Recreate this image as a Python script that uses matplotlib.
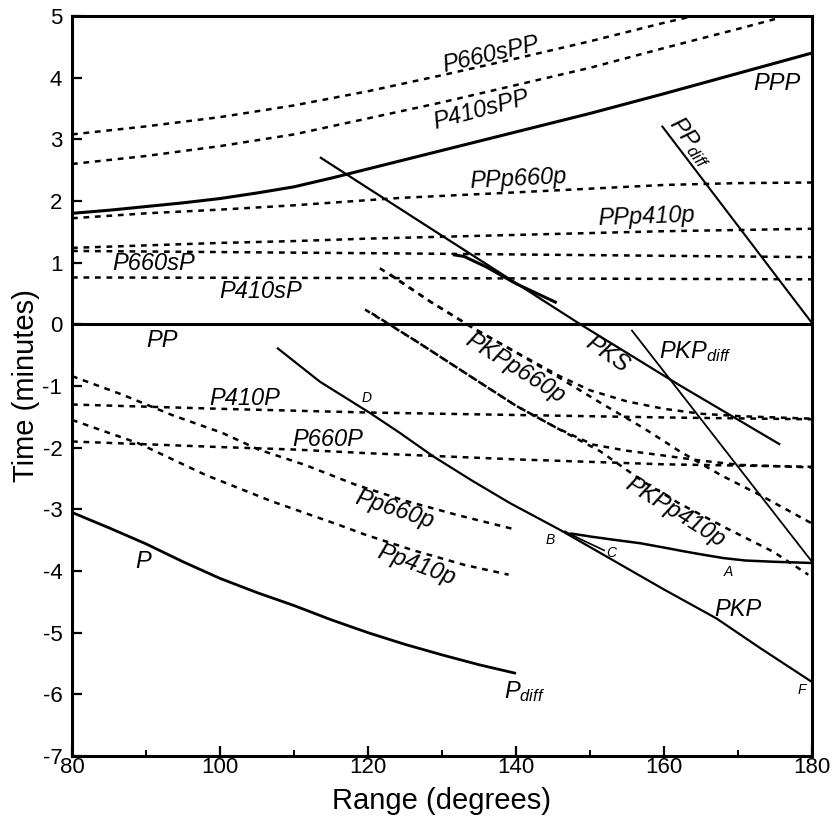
"""Travel-time curves of P-wave phases and their 410/660 km precursors"""

import matplotlib

matplotlib.use("Agg")
import matplotlib.pyplot as plt
from matplotlib.ticker import MultipleLocator

plt.rcParams["font.family"] = ["Liberation Sans", "DejaVu Sans"]
plt.rcParams["mathtext.fontset"] = "custom"
plt.rcParams["mathtext.it"] = "Liberation Sans:italic"
plt.rcParams["mathtext.rm"] = "Liberation Sans"
plt.rcParams["axes.unicode_minus"] = False

# ---- solid phases -------------------------------------------------------
ppp_x = [80, 85, 90, 95, 100, 105, 110, 115, 120, 130, 140, 150, 160, 170, 180]
ppp_y = [1.8, 1.85, 1.91, 1.97, 2.04, 2.13, 2.23, 2.37, 2.52, 2.82, 3.12, 3.42, 3.74, 4.07, 4.4]

ppdiff_x = [159.7, 180]
ppdiff_y = [3.22, 0.02]

pp_x = [80, 180]
pp_y = [0.0, 0.0]

pks_x = [113.5, 128.4, 148.7, 162, 175.7]
pks_y = [2.71, 1.56, 0.0, -0.98, -1.95]

pks_branch_x = [131.5, 133, 136, 140, 145.5]
pks_branch_y = [1.13, 1.1, 0.93, 0.66, 0.35]

pkpdiff_x = [155.6, 180]
pkpdiff_y = [-0.09, -3.85]

pkp_df_x = [107.7, 113.5, 120.3, 124.3, 128.8, 134, 139.2, 145.9, 152.3, 160, 167.1, 173, 180]
pkp_df_y = [-0.38, -0.93, -1.44, -1.76, -2.14, -2.53, -2.9, -3.33, -3.77, -4.3, -4.77, -5.25, -5.8]

pkp_ab_x = [147.3, 150, 153, 156.8, 160, 162.2, 165, 168, 171, 174.8, 180]
pkp_ab_y = [-3.39, -3.44, -3.49, -3.55, -3.62, -3.67, -3.73, -3.79, -3.83, -3.85, -3.87]

pkp_bc_x = [146.5, 149, 152]
pkp_bc_y = [-3.35, -3.5, -3.67]

p_x = [80, 85, 90, 95, 100, 105, 110, 115, 120, 125, 130, 135, 140]
p_y = [-3.05, -3.3, -3.56, -3.85, -4.12, -4.35, -4.56, -4.79, -5.0, -5.19, -5.36, -5.52, -5.66]

# ---- dashed precursors --------------------------------------------------
p660spp_x = [80, 90, 100, 110, 120, 130, 140, 150, 160, 164]
p660spp_y = [3.08, 3.21, 3.36, 3.55, 3.78, 4.04, 4.31, 4.59, 4.89, 5.0]

p410spp_x = [80, 90, 100, 110, 120, 130, 140, 150, 160, 170, 175]
p410spp_y = [2.6, 2.73, 2.89, 3.08, 3.34, 3.6, 3.88, 4.16, 4.48, 4.79, 4.95]

ppp660p_x = [80, 90, 100, 110, 124.3, 140, 150, 160, 170, 180]
ppp660p_y = [1.72, 1.8, 1.86, 1.93, 2.05, 2.14, 2.2, 2.26, 2.29, 2.3]

ppp410p_x = [80, 90, 100, 110, 120, 130, 140, 150, 160, 170, 180]
ppp410p_y = [1.24, 1.28, 1.32, 1.35, 1.39, 1.42, 1.45, 1.48, 1.51, 1.53, 1.55]

p660sp_x = [80, 124.3, 180]
p660sp_y = [1.19, 1.15, 1.09]

p410sp_x = [80, 124.3, 180]
p410sp_y = [0.76, 0.75, 0.73]

p410p_x = [80, 100, 120, 140, 160, 180]
p410p_y = [-1.3, -1.37, -1.43, -1.47, -1.51, -1.54]

p660p_x = [80, 100, 110, 120, 140, 160, 180]
p660p_y = [-1.9, -1.99, -2.03, -2.09, -2.19, -2.27, -2.31]

pp660p_x = [80, 86.8, 93.5, 100.3, 105.2, 111.5, 118.3, 125, 132, 140]
pp660p_y = [-0.84, -1.14, -1.47, -1.76, -2.03, -2.28, -2.6, -2.86, -3.09, -3.33]

pp410p_x = [80, 89, 98, 107, 116, 119.6, 126, 133, 139]
pp410p_y = [-1.55, -1.93, -2.44, -2.87, -3.25, -3.41, -3.66, -3.9, -4.06]

pkpp660p_a_x = [121.6, 128.4, 134.2, 139.2, 145.9, 150, 155, 160, 165, 170.3, 180]
pkpp660p_a_y = [0.91, 0.37, -0.06, -0.4, -0.84, -1.07, -1.25, -1.37, -1.45, -1.49, -1.53]
pkpp660p_b_x = [123, 128.4, 134.2, 139.2, 145.9, 151.8, 157.2, 162, 167.6, 173, 180]
pkpp660p_b_y = [0.81, 0.37, -0.06, -0.4, -0.87, -1.3, -1.68, -2.05, -2.44, -2.77, -3.23]

pkpp410p_a_x = [119.6, 126.6, 135.6, 140, 145.5, 150.4, 155, 159.5, 165, 170.3, 180]
pkpp410p_a_y = [0.24, -0.28, -0.98, -1.32, -1.68, -1.95, -2.05, -2.12, -2.21, -2.28, -2.32]
pkpp410p_b_x = [120.5, 126.6, 135.6, 140, 145.5, 151.4, 157.2, 162, 168.5, 174.8, 179.5]
pkpp410p_b_y = [0.18, -0.28, -0.98, -1.32, -1.68, -2.06, -2.55, -2.9, -3.31, -3.69, -4.06]

# ---- curve labels: text, x, y, rotation, size ---------------------------
labels = [
    ("P660sPP", 136.6, 4.38, 13, 17),
    ("P410sPP", 135.3, 3.47, 15, 17),
    ("PPP", 175.3, 3.9, 0, 17),
    (r"$PP_{diff}$", 163.6, 2.95, -53, 17),
    ("PPp660p", 140.3, 2.35, 3, 17),
    ("PPp410p", 157.6, 1.74, 2, 17),
    ("P660sP", 91.0, 0.99, 0, 17),
    ("P410sP", 105.5, 0.54, 0, 17),
    ("PP", 92.2, -0.26, 0, 17),
    ("PKS", 152.3, -0.49, -35, 17),
    (r"$PKP_{diff}$", 164.3, -0.44, 0, 17),
    ("PKPp660p", 139.9, -0.71, -32, 17),
    ("PKPp410p", 161.5, -3.04, -32, 17),
    ("P410P", 103.3, -1.2, 0, 17),
    ("P660P", 114.6, -1.86, 0, 17),
    ("Pp660p", 123.6, -3.0, -18, 17),
    ("Pp410p", 126.6, -3.9, -20, 17),
    ("P", 89.6, -3.85, 0, 17),
    (r"$P_{diff}$", 141.2, -5.95, 0, 17),
    ("PKP", 170.0, -4.63, 0, 17),
    ("A", 168.7, -4.01, 0, 10),
    ("B", 144.6, -3.5, 0, 10),
    ("C", 152.9, -3.71, 0, 10),
    ("D", 119.8, -1.2, 0, 10),
    ("F", 178.6, -5.93, 0, 10),
]


def main():
    fig = plt.figure(figsize=(8.35, 8.24), dpi=100)
    ax = fig.add_axes([72 / 835, 1 - 756 / 824, 740 / 835, 740 / 824])

    solid = [
        (ppp_x, ppp_y, 2.2),
        (ppdiff_x, ppdiff_y, 1.5),
        (pp_x, pp_y, 2.2),
        (pks_x, pks_y, 1.6),
        (pks_branch_x, pks_branch_y, 2.2),
        (pkpdiff_x, pkpdiff_y, 1.3),
        (pkp_df_x, pkp_df_y, 1.6),
        (pkp_ab_x, pkp_ab_y, 1.8),
        (pkp_bc_x, pkp_bc_y, 1.2),
        (p_x, p_y, 2.0),
    ]
    for x, y, lw in solid:
        ax.plot(x, y, color="black", lw=lw, solid_capstyle="butt")

    dashed = [
        (p660spp_x, p660spp_y),
        (p410spp_x, p410spp_y),
        (ppp660p_x, ppp660p_y),
        (ppp410p_x, ppp410p_y),
        (p660sp_x, p660sp_y),
        (p410sp_x, p410sp_y),
        (p410p_x, p410p_y),
        (p660p_x, p660p_y),
        (pp660p_x, pp660p_y),
        (pp410p_x, pp410p_y),
        (pkpp660p_a_x, pkpp660p_a_y),
        (pkpp660p_b_x, pkpp660p_b_y),
        (pkpp410p_a_x, pkpp410p_a_y),
        (pkpp410p_b_x, pkpp410p_b_y),
    ]
    for x, y in dashed:
        ax.plot(x, y, color="black", lw=1.8, linestyle=(0, (2.3, 2.3)))

    for text, x, y, rot, size in labels:
        ax.text(
            x, y, text, fontsize=size, style="italic", rotation=rot,
            ha="center", va="center", rotation_mode="anchor",
        )

    ax.set_xlim(80, 180)
    ax.set_ylim(-7, 5)
    ax.xaxis.set_major_locator(MultipleLocator(20))
    ax.xaxis.set_minor_locator(MultipleLocator(10))
    ax.yaxis.set_major_locator(MultipleLocator(1))
    ax.tick_params(axis="both", which="major", direction="in", length=7,
                   width=1.6, labelsize=16)
    ax.tick_params(axis="x", which="minor", direction="in", length=4, width=1.4)
    ax.tick_params(axis="x", which="major", pad=1)
    ax.tick_params(axis="y", which="major", pad=7)
    for side in ax.spines.values():
        side.set_linewidth(2.2)

    ax.set_xlabel("Range (degrees)", fontsize=21, labelpad=6)
    ax.set_ylabel("Time (minutes)", fontsize=21, labelpad=2)

    fig.savefig("out.png", dpi=100)
    plt.close(fig)


if __name__ == "__main__":
    main()
